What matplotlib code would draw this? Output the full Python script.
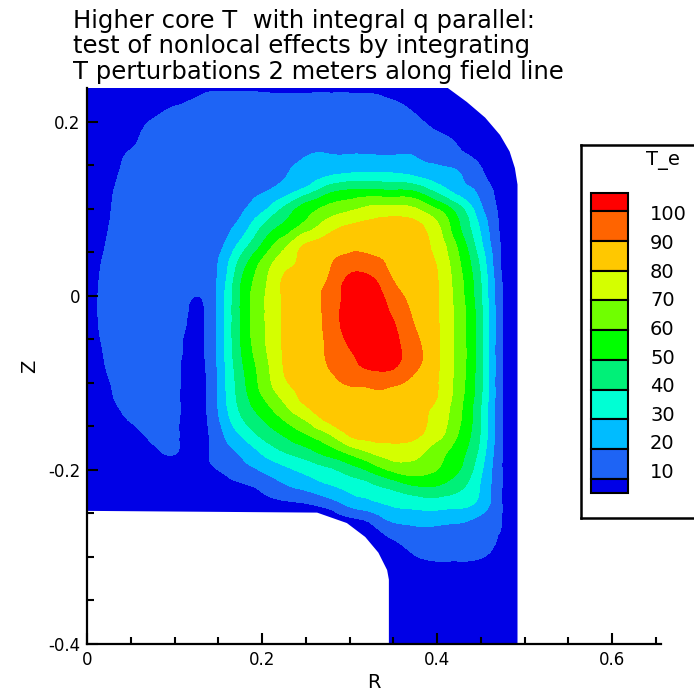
import numpy as np
import matplotlib
matplotlib.use("Agg")
import matplotlib.pyplot as plt
import matplotlib.tri as mtri
from matplotlib.patches import Polygon
from matplotlib.ticker import MultipleLocator, FixedLocator

# ---------------- data ----------------
R_NODES = [0.0, 0.025, 0.05, 0.075, 0.1, 0.125, 0.15, 0.175, 0.2, 0.225, 0.25,
           0.275, 0.3, 0.325, 0.35, 0.375, 0.4, 0.425, 0.45, 0.475, 0.5]
Z_NODES = [0.24, 0.22, 0.20, 0.18, 0.16, 0.14, 0.12, 0.10, 0.08, 0.06, 0.04,
           0.02, 0.0, -0.02, -0.04, -0.06, -0.08, -0.10, -0.12, -0.14, -0.16,
           -0.18, -0.20, -0.22, -0.24, -0.26, -0.28, -0.30, -0.32, -0.34, -0.36,
           -0.38, -0.40]

T_E = [
    [3, 3, 4, 5, 5, 8, 8, 8, 8, 8, 8, 8, 8, 8, 6, 4, 3, 2, 1, 0, 0],
    [3, 4, 5, 7, 9.5, 11.5, 14, 14, 13, 12, 12, 12, 12, 12, 11, 8, 5, 3, 2, 1, 0],
    [3, 5, 8, 10.5, 13.5, 15, 15, 15, 14, 13, 12, 12, 12, 13, 13.5, 11.5, 8, 5, 3, 1, 0],
    [3, 6, 9, 12, 15, 16, 16, 16, 16, 16, 16.5, 16.5, 16.5, 16.5, 16.5, 15, 12, 8.5, 4.5, 2, 0],
    [3, 7, 11, 13, 15, 16, 17, 17.5, 18, 18.5, 20, 20.5, 20.5, 20.5, 20.5, 20, 17, 13, 7.5, 3, 0],
    [3, 8, 12, 14, 15, 16, 17, 17.5, 18, 19.5, 23, 28, 31, 31.5, 31, 28, 24, 20.5, 12, 4, 0],
    [3, 9, 12.5, 14, 15, 16, 17, 18, 19.5, 25, 35, 47, 52, 53, 52, 50, 38, 26, 17, 6, 0],
    [3, 9.5, 12.5, 14, 15, 16, 17, 18.5, 27, 42, 55, 63, 68, 73, 74, 71, 60, 44, 22, 7, 0],
    [3, 10, 12.5, 14, 15, 16, 17, 23, 40, 52, 64, 75, 81, 83, 84, 83, 72, 51, 28, 7, 0],
    [3, 10.8, 12.5, 13.5, 14.5, 15.5, 17, 32, 50, 66, 80, 85, 88, 88, 87, 85, 76, 57, 32, 8, 0],
    [3, 12, 13, 14, 14.5, 15.5, 20, 42, 61, 75, 83, 88.5, 93, 92, 87.5, 84, 79, 61, 37, 8, 0],
    [3, 13.5, 14, 14.5, 15, 16, 21, 48, 66, 81, 85.5, 90, 102, 101, 89.5, 85, 80.5, 63.5, 40, 9, 0],
    [3, 14.5, 15, 15, 15, 10, 22, 50, 68, 81.3, 86, 92.7, 104, 105, 94.7, 86.6, 80.8, 64.5, 41, 9.5, 0],
    [3, 14.5, 15, 15, 14, 8.5, 22, 50, 68, 81.3, 86, 92.7, 105, 106, 98.5, 88.3, 81, 65.5, 42.5, 10, 0],
    [3, 13.5, 14.5, 15, 13, 8, 22, 50, 68, 81.3, 86, 92.1, 104, 107, 102, 90.5, 81.3, 65.5, 42.5, 10, 0],
    [3, 12, 14, 14.5, 12.5, 7.5, 22, 49, 67, 81, 85.5, 91.2, 100, 104, 103, 93.2, 81.7, 66, 42.5, 10, 0],
    [3, 11, 13.5, 14, 12, 7, 21.5, 47, 64.5, 80.5, 85, 90, 96.5, 102.5, 101.5, 92.3, 81.5, 66, 42.5, 10, 0],
    [3, 9.7, 12, 13, 12, 6.5, 21, 45, 63, 78, 83, 86.5, 91, 92, 91.5, 87, 80.5, 65, 42, 10, 0],
    [3, 9, 11.5, 13, 12, 6, 21, 43, 58, 71, 82, 85.5, 87, 88, 87, 84, 79.5, 63.5, 41, 10, 0],
    [2, 7, 10.5, 12.5, 12, 6, 19, 38.5, 50.5, 61.5, 72, 83, 85.5, 86, 85, 83, 76.5, 62, 40, 10, 0],
    [1, 5, 8, 11.5, 11.5, 6, 16, 30, 42, 50.5, 59, 68, 80.5, 83, 83, 81.5, 73.5, 59, 39, 10, 0],
    [1, 3, 5, 8, 10.5, 6, 14, 21, 31, 39.5, 45.5, 53.5, 62, 70.5, 75, 73.5, 64, 54, 36, 9.5, 0],
    [1, 2, 3, 4, 5, 7, 10, 15.5, 21, 27, 32.5, 37.5, 44.5, 52.5, 62, 64.5, 60, 50.5, 32, 9.5, 0],
    [1, 1, 2, 2, 3, 4, 6, 8, 12, 18, 22.5, 28, 32.5, 37, 42, 48, 48.5, 42, 29, 9.5, 0],
    [1, 1, 1, 2, 2, 3, 4, 5, 6, 7.5, 9, 13, 22, 26.5, 31, 33, 34, 32.5, 26, 9.5, 0],
    [3, 3, 3, 3, 3, 3, 3, 3, 3, 3, 3, 4, 6, 11, 20, 22, 22, 20.5, 16, 9.5, 0],
    [3, 3, 3, 3, 3, 3, 3, 3, 3, 3, 3, 3, 4, 6, 10, 14, 15, 15, 14, 8, 0],
    [3, 3, 3, 3, 3, 3, 3, 3, 3, 3, 3, 3, 3, 4, 6, 9.5, 11.5, 11.5, 10.5, 5, 0],
    [3, 3, 3, 3, 3, 3, 3, 3, 3, 3, 3, 3, 3, 3, 4, 5, 6, 6, 5, 3, 0],
    [3, 3, 3, 3, 3, 3, 3, 3, 3, 3, 3, 3, 3, 3, 4, 4, 5, 5, 4, 3, 0],
    [3, 3, 3, 3, 3, 3, 3, 3, 3, 3, 3, 3, 3, 3, 3, 3, 3, 3, 3, 3, 0],
    [3, 3, 3, 3, 3, 3, 3, 3, 3, 3, 3, 3, 3, 3, 3, 3, 3, 3, 3, 3, 0],
    [3, 3, 3, 3, 3, 3, 3, 3, 3, 3, 3, 3, 3, 3, 3, 3, 3, 3, 3, 3, 0],
]

LEVELS = [10, 20, 30, 40, 50, 60, 70, 80, 90, 100]
BAND_COLORS = ["#0000e6", "#1e64f5", "#00bcff", "#00ffd4", "#00f078",
               "#00ff00", "#70ff00", "#d4ff00", "#ffc800", "#ff6400", "#ff0000"]
LEGEND_TITLE = "T_e"

# computational domain outline (R, Z)
DOMAIN_R = [0.0, 0.0, 0.411, 0.434, 0.455, 0.472, 0.483, 0.489, 0.492, 0.492,
            0.345, 0.345, 0.343, 0.333, 0.318, 0.297, 0.263, 0.0]
DOMAIN_Z = [-0.247, 0.24, 0.24, 0.223, 0.205, 0.185, 0.166, 0.147, 0.128, -0.40,
            -0.40, -0.326, -0.315, -0.295, -0.277, -0.261, -0.249, -0.247]

TITLE_LINES = ["Higher core T  with integral q parallel:",
               "test of nonlocal effects by integrating",
               "T perturbations 2 meters along field line"]
X_TICKS = [0.0, 0.2, 0.4, 0.6]
X_TICK_LABELS = ["0", "0.2", "0.4", "0.6"]
Y_TICKS = [-0.4, -0.2, 0.0, 0.2]
Y_TICK_LABELS = ["-0.4", "-0.2", "0", "0.2"]

# ---------------- figure ----------------
W, H = 694, 693
fig = plt.figure(figsize=(W / 100, H / 100), dpi=100)
fig.patch.set_facecolor("white")

ax = fig.add_axes([87 / W, 1 - 644 / H, 574 / W, 556 / H])
Rg, Zg = np.meshgrid(np.array(R_NODES), np.array(Z_NODES))
T = np.array(T_E, dtype=float)
tri = mtri.Triangulation(Rg.ravel(), Zg.ravel())
interp = mtri.CubicTriInterpolator(tri, T.ravel(), kind="min_E")
refiner = mtri.UniformTriRefiner(tri)
tri_f, T_f = refiner.refine_field(T.ravel(), triinterpolator=interp, subdiv=3)
bounds = [-1000] + LEVELS + [1000]
cs = ax.tricontourf(tri_f, T_f, levels=bounds, colors=BAND_COLORS, antialiased=False)
clip = Polygon(np.column_stack([DOMAIN_R, DOMAIN_Z]), closed=True,
               transform=ax.transData)
cs.set_clip_path(clip)

ax.set_xlim(0, 0.656)
ax.set_ylim(-0.4, 0.239)
for s in ["top", "right"]:
    ax.spines[s].set_visible(False)
for s in ["left", "bottom"]:
    ax.spines[s].set_linewidth(1.6)
ax.xaxis.set_major_locator(FixedLocator(X_TICKS))
ax.set_xticklabels(X_TICK_LABELS)
ax.yaxis.set_major_locator(FixedLocator(Y_TICKS))
ax.set_yticklabels(Y_TICK_LABELS)
ax.xaxis.set_minor_locator(MultipleLocator(0.05))
ax.yaxis.set_minor_locator(MultipleLocator(0.05))
ax.tick_params(which="major", direction="in", length=8, width=1.5, labelsize=12, pad=5)
ax.tick_params(which="minor", direction="in", length=5, width=1.5)
ax.set_xlabel("R", fontsize=14, labelpad=3)
ax.set_ylabel("Z", fontsize=14, labelpad=6)

for i, line in enumerate(TITLE_LINES):
    fig.text(73 / W, 1 - (28 + 25.5 * i) / H, line, fontsize=17.5,
             ha="left", va="baseline")

# ---------------- legend ----------------
lax = fig.add_axes([581 / W, 1 - 518 / H, 0.2, (518 - 145) / H])
lax.set_xlim(581, 581 + 0.2 * W)
lax.set_ylim(518, 145)
lax.set_xticks([])
lax.set_yticks([])
lax.spines["right"].set_visible(False)
for s in ["left", "top", "bottom"]:
    lax.spines[s].set_linewidth(1.8)

n_mid = len(LEVELS) - 1
top_y, mid_top, mid_bot, bot_y = 193, 211, 479, 493
step = (mid_bot - mid_top) / n_mid
cols_top_down = BAND_COLORS[::-1]
tops = [top_y] + [mid_top + k * step for k in range(n_mid)] + [mid_bot]
heights = [mid_top - top_y] + [step] * n_mid + [bot_y - mid_bot]
lax.bar([609.5] * len(tops), heights, bottom=tops, width=37,
        color=cols_top_down, edgecolor="black", linewidth=1.5)
lab_levels = LEVELS[::-1]
for i, lv in enumerate(lab_levels):
    lax.text(650, 215 + i * 28.6, str(lv), fontsize=14, ha="left", va="center")
lax.text(646, 160, LEGEND_TITLE, fontsize=14, ha="left", va="center")

fig.savefig("out.png", dpi=100)
